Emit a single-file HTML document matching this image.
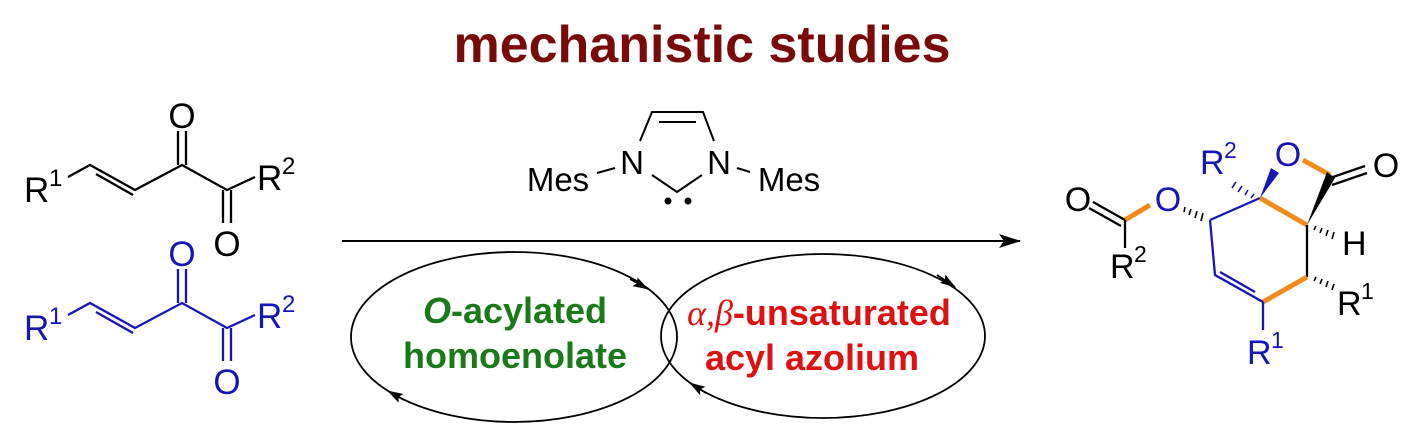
<!DOCTYPE html>
<html><head><meta charset="utf-8"><style>
html,body{margin:0;padding:0;background:#fff;}
svg{display:block;}
text{font-family:"Liberation Sans",Arial,sans-serif;}
</style></head><body>
<svg width="1403" height="439" viewBox="0 0 1403 439" xmlns="http://www.w3.org/2000/svg">
<defs>
<marker id="ah" markerWidth="16" markerHeight="10" refX="15" refY="5" orient="auto" markerUnits="userSpaceOnUse"><path d="M0,0 L16,5 L0,10 L3,5 Z" fill="#000"/></marker>
<marker id="big" markerWidth="22" markerHeight="14" refX="21" refY="7" orient="auto" markerUnits="userSpaceOnUse"><path d="M0,0 L22,7 L0,14 L5,7 Z" fill="#000"/></marker>
</defs>
<text x="702" y="62" text-anchor="middle" font-size="52" font-weight="bold" fill="#7a0a0a">mechanistic studies</text>

<!-- left black molecule -->
<g stroke="#000" stroke-width="2.3" fill="none">
<path d="M68,177 L90,165 L135,190 L182,165 L227,190 L255,177"/>
<path d="M96,174 L133,195"/>
<path d="M178,165 L178,131 M186,165 L186,131"/>
<path d="M223,190 L223,223 M231,190 L231,223"/>
</g>
<g font-size="35" fill="#000">
<text x="24" y="202">R</text><text x="49" y="186" font-size="24">1</text>
<text x="257" y="190">R</text><text x="282" y="174" font-size="24">2</text>
<text x="182" y="128" text-anchor="middle">O</text>
<text x="227" y="256" text-anchor="middle">O</text>
</g>
<!-- left blue molecule -->
<g transform="translate(0,138)">
<g stroke="#1515b8" stroke-width="2.3" fill="none">
<path d="M68,177 L90,165 L135,190 L182,165 L227,190 L255,177"/>
<path d="M96,174 L133,195"/>
<path d="M178,165 L178,131 M186,165 L186,131"/>
<path d="M223,190 L223,223 M231,190 L231,223"/>
</g>
<g font-size="35" fill="#1515b8">
<text x="24" y="202">R</text><text x="49" y="186" font-size="24">1</text>
<text x="257" y="190">R</text><text x="282" y="174" font-size="24">2</text>
<text x="182" y="128" text-anchor="middle">O</text>
<text x="227" y="256" text-anchor="middle">O</text>
</g>
</g>

<!-- carbene -->
<g stroke="#000" stroke-width="2" fill="none">
<path d="M640,141 L652,112 L703,112 L714,141"/>
<path d="M659,122 L696,122"/>
<path d="M652,175 L677,192 L702,175"/>
<path d="M597,173 L615,168 M737,168 L750,172"/>
</g>
<circle cx="668" cy="201" r="3.5" fill="#000"/><circle cx="688" cy="201" r="3.5" fill="#000"/>
<g font-size="33" fill="#000">
<text x="632" y="174" text-anchor="middle">N</text>
<text x="719" y="174" text-anchor="middle">N</text>
<text x="558" y="191" text-anchor="middle">Mes</text>
<text x="789" y="191" text-anchor="middle">Mes</text>
</g>
<line x1="342" y1="241" x2="1020" y2="241" stroke="#000" stroke-width="2" marker-end="url(#big)"/>

<!-- cycles -->
<g stroke="#000" stroke-width="1.8" fill="none">
<ellipse cx="514" cy="337" rx="163" ry="85"/>
<ellipse cx="823" cy="336" rx="162" ry="82"/>
</g>
<line x1="630" y1="279" x2="648" y2="289" stroke="#000" stroke-width="1.8" marker-end="url(#ah)"/>
<line x1="937" y1="275" x2="955" y2="287" stroke="#000" stroke-width="1.8" marker-end="url(#ah)"/>
<line x1="404" y1="400" x2="388" y2="391" stroke="#000" stroke-width="1.8" marker-end="url(#ah)"/>
<line x1="706" y1="393" x2="690" y2="383" stroke="#000" stroke-width="1.8" marker-end="url(#ah)"/>
<g font-size="36" font-weight="bold">
<text x="515" y="323" text-anchor="middle" fill="#1a7a1a"><tspan font-style="italic">O</tspan>-acylated</text>
<text x="515" y="368" text-anchor="middle" fill="#1a7a1a">homoenolate</text>
<text x="819" y="325" text-anchor="middle" fill="#e01010"><tspan font-family="Liberation Serif" font-style="italic" font-weight="normal">α,β</tspan>-unsaturated</text>
<text x="812" y="370" text-anchor="middle" fill="#e01010">acyl azolium</text>
</g>

<!-- product -->
<g fill="none" stroke-width="2.3">
<path d="M1125,220 L1150,205" stroke="#f28a1c" stroke-width="5"/>
<path d="M1125,220 L1093,202 M1121,226 L1089,208" stroke="#000"/>
<path d="M1125,220 L1125,248" stroke="#000"/>
<path d="M1210,220 L1260,198" stroke="#1515b8"/>
<path d="M1260,198 L1307,225" stroke="#f28a1c" stroke-width="5"/>
<path d="M1330,175 L1303,160" stroke="#f28a1c" stroke-width="5"/>
<path d="M1330,178 L1365,166 M1332,185 L1367,173" stroke="#000"/>
<path d="M1307,225 L1307,277" stroke="#000"/>
<path d="M1307,277 L1263,302" stroke="#f28a1c" stroke-width="5"/>
<path d="M1263,302 L1215,275 L1210,220" stroke="#1515b8"/>
<path d="M1255,292 L1220,272" stroke="#1515b8"/>
<path d="M1263,302 L1263,330" stroke="#1515b8"/>
</g>
<path d="M1307,225 L1327,172 L1335,178 Z" fill="#000"/>
<path d="M1260,198 L1271,168 L1279,173 Z" fill="#1515b8"/>
<g stroke="#000" stroke-width="1.6">
<path d="M1185,207 L1184,212 M1191,209 L1189,215 M1197,211 L1195,218 M1203,213 L1201,221"/>
<path d="M1314,230 L1316,226 M1320,233 L1322,228 M1326,236 L1328,230 M1332,239 L1334,232"/>
<path d="M1314,281 L1316,277 M1320,284 L1322,279 M1326,287 L1328,281 M1332,290 L1334,284"/>
</g>
<g stroke="#1515b8" stroke-width="1.6">
<path d="M1254,194 L1251,198 M1248,190 L1245,195 M1242,186 L1238,192 M1236,182 L1232,188"/>
</g>
<g font-size="34">
<text x="1078" y="211" text-anchor="middle" fill="#000">O</text>
<text x="1110" y="278" fill="#000">R</text><text x="1134" y="262" font-size="23" fill="#000">2</text>
<text x="1168" y="211" text-anchor="middle" fill="#1515b8">O</text>
<text x="1288" y="166" text-anchor="middle" fill="#1515b8">O</text>
<text x="1386" y="177" text-anchor="middle" fill="#000">O</text>
<text x="1342" y="255" fill="#000">H</text>
<text x="1337" y="315" fill="#000">R</text><text x="1361" y="299" font-size="23" fill="#000">1</text>
<text x="1247" y="364" fill="#1515b8">R</text><text x="1271" y="348" font-size="23" fill="#1515b8">1</text>
<text x="1200" y="174" fill="#1515b8">R</text><text x="1224" y="158" font-size="23" fill="#1515b8">2</text>
</g>
</svg>
</body></html>
